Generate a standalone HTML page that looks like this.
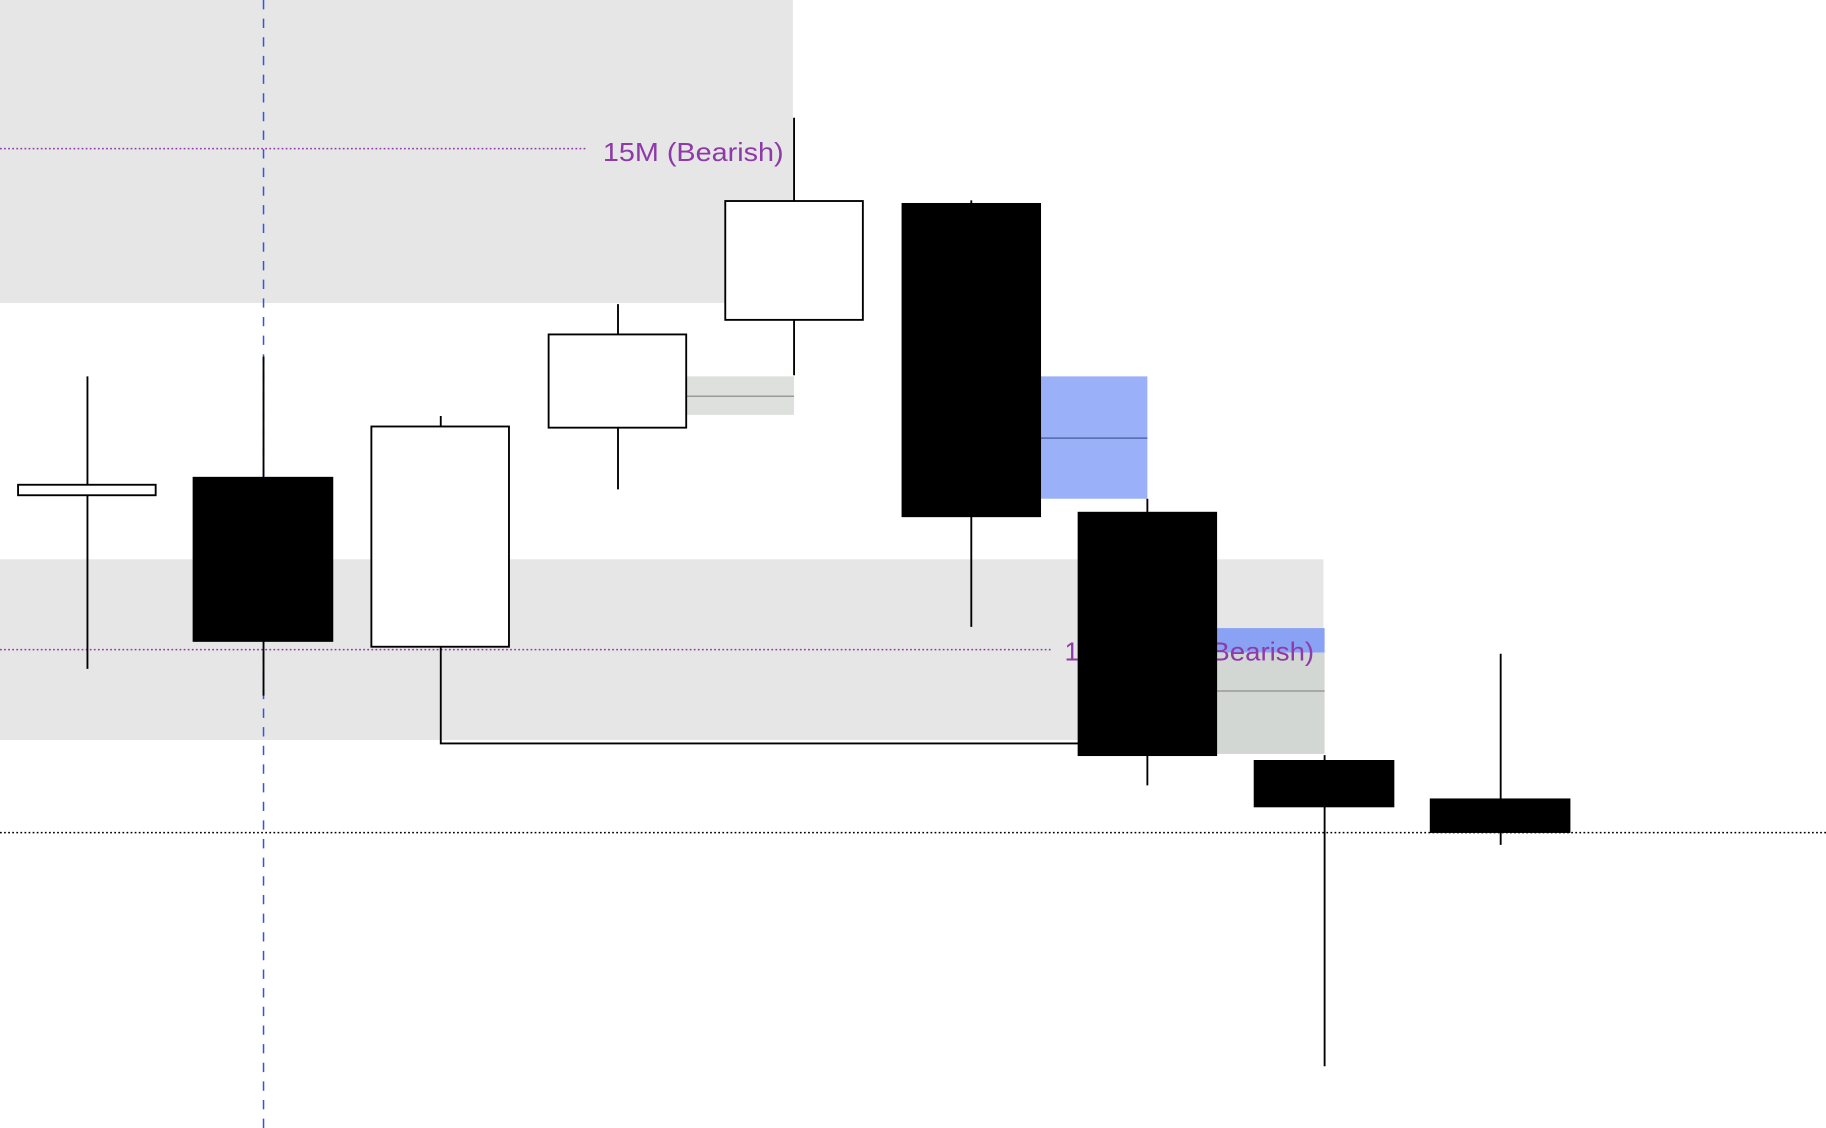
<!DOCTYPE html>
<html><head><meta charset="utf-8"><style>
html,body{margin:0;padding:0;background:#fff;width:1826px;height:1128px;overflow:hidden}
svg{display:block}
</style></head><body>
<svg width="1826" height="1128" viewBox="0 0 1566 968" preserveAspectRatio="none" xmlns="http://www.w3.org/2000/svg">
<rect x="0" y="0" width="680" height="260" fill="#e6e6e6"/>
<rect x="0" y="480" width="1135" height="155" fill="#e6e6e6"/>
<line x1="0" y1="127.5" x2="503" y2="127.5" stroke="#8e3aa8" stroke-width="1.3" stroke-dasharray="1.5 2"/>
<text x="517" y="138" font-family="Liberation Sans, sans-serif" font-size="22" fill="#8e3aa8" textLength="155" lengthAdjust="spacingAndGlyphs">15M (Bearish)</text>
<line x1="0" y1="557.5" x2="903" y2="557.5" stroke="#8e3aa8" stroke-width="1.3" stroke-dasharray="1.5 2"/>
<rect x="589" y="323" width="92" height="33" fill="#dde0dd"/>
<line x1="589" y1="340" x2="681" y2="340" stroke="#9a9a9a" stroke-width="1.3"/>
<rect x="892" y="323" width="92" height="105" fill="#9ab0f8"/>
<line x1="892" y1="376" x2="984" y2="376" stroke="#5566aa" stroke-width="1.3"/>
<rect x="1043" y="539" width="93" height="21" fill="#8aa2f4"/>
<rect x="1043" y="560" width="93" height="87" fill="#d3d7d3"/>
<line x1="1043" y1="593" x2="1136" y2="593" stroke="#999" stroke-width="1.3"/>
<text x="913" y="567" font-family="Liberation Sans, sans-serif" font-size="22" fill="#8e3aa8">15M</text>
<text x="1031" y="567" font-family="Liberation Sans, sans-serif" font-size="22" fill="#8e3aa8" textLength="96" lengthAdjust="spacingAndGlyphs">(Bearish)</text>
<line x1="0" y1="714.5" x2="1566" y2="714.5" stroke="#000" stroke-width="1.3" stroke-dasharray="1.5 2"/>
<line x1="226" y1="0" x2="226" y2="968" stroke="#3355dd" stroke-width="1.3" stroke-dasharray="8 8"/>
<g stroke="#000" stroke-width="1.6">
<line x1="75" y1="323" x2="75" y2="574"/>
<line x1="226" y1="306" x2="226" y2="597"/>
<line x1="378" y1="357" x2="378" y2="366"/>
<polyline points="378,555 378,638 925,638" fill="none"/>
<line x1="530" y1="261" x2="530" y2="420"/>
<line x1="681" y1="101" x2="681" y2="322"/>
<line x1="833" y1="172" x2="833" y2="538"/>
<line x1="984" y1="428" x2="984" y2="674"/>
<line x1="1136" y1="648" x2="1136" y2="915"/>
<line x1="1287" y1="561" x2="1287" y2="725"/>
<rect x="15.5" y="416" width="118" height="9" fill="#fff"/>
<rect x="166" y="410" width="119" height="140" fill="#000"/>
<rect x="318.5" y="366" width="118" height="189" fill="#fff"/>
<rect x="470.5" y="287" width="118" height="80" fill="#fff"/>
<rect x="622" y="172.5" width="118" height="102" fill="#fff"/>
<rect x="774" y="175" width="118" height="268" fill="#000"/>
<rect x="925" y="440" width="118" height="208" fill="#000"/>
<rect x="1076" y="653" width="119" height="39" fill="#000"/>
<rect x="1227" y="686" width="119" height="28" fill="#000"/>
</g>
</svg>
</body></html>
